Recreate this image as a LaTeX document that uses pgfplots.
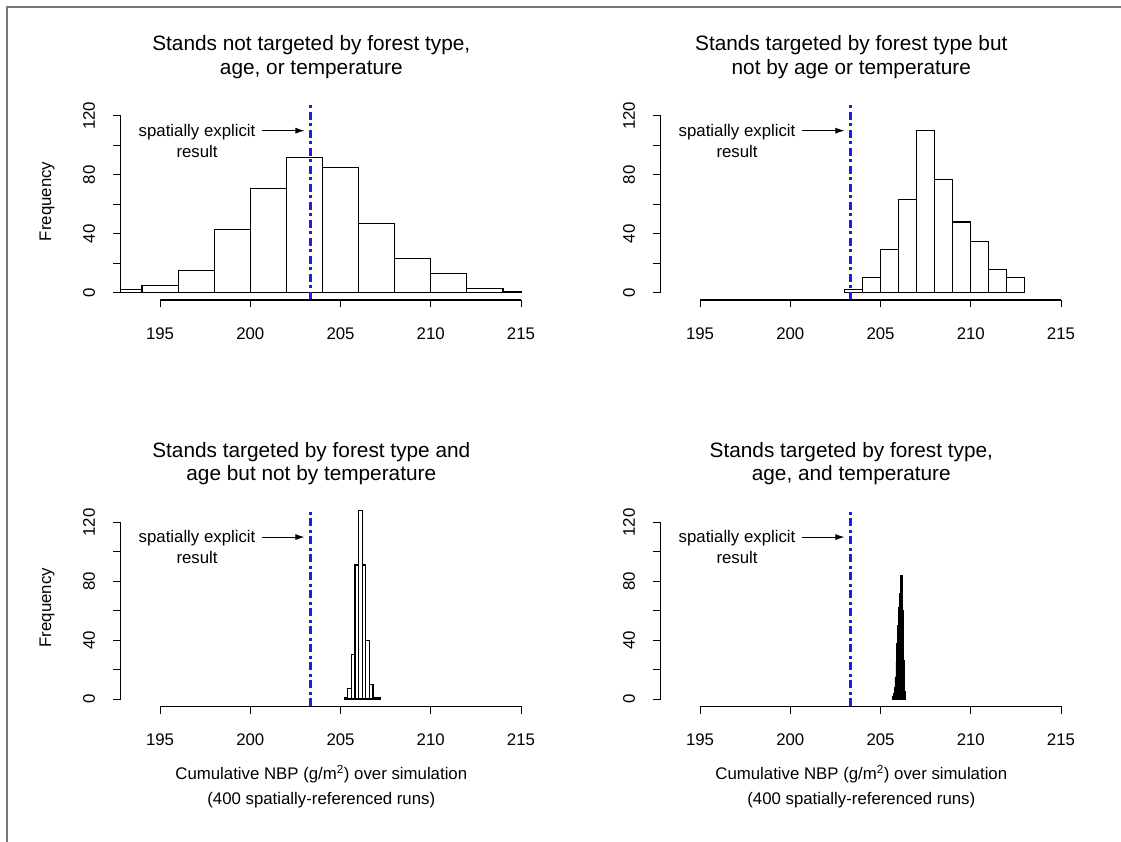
\documentclass[border=0pt]{standalone}
\usepackage{fontspec}
\setmainfont{Liberation Sans}
\usepackage{pgfplots}
\usepackage{pgfplotstable}
\pgfplotsset{compat=1.18}
\usetikzlibrary{arrows.meta}

\definecolor{markblue}{RGB}{28,28,235}
\definecolor{framegray}{RGB}{120,120,120}
\newcommand{\lblfont}{\fontsize{16.8bp}{25bp}\selectfont}
\newcommand{\ttlfont}{\fontsize{20.8bp}{23.5bp}\selectfont}

% Histogram counts: left edge of each bin and its count;
% the final row only closes the last bin.
\pgfplotstableread{
edge count
192 2
194 5
196 15
198 43
200 71
202 92
204 85
206 47
208 23
210 13
212 3
214 1
216 1
}\histNone

\pgfplotstableread{
edge count
203 2
204 10
205 29
206 63
207 110
208 77
209 48
210 35
211 16
212 10
213 10
}\histType

\pgfplotstableread{
edge count
205.2 1
205.4 7
205.6 30
205.8 91
206.0 128
206.2 91
206.4 40
206.6 10
206.8 1
207.0 1
207.2 1
}\histTypeAge

\pgfplotstableread{
edge count
205.65 2
205.70 4
205.75 8
205.80 15
205.85 25
205.90 38
205.95 50
206.00 62
206.05 72
206.10 84
206.15 84
206.20 60
206.25 26
206.30 5
206.35 5
}\histAll

\pgfplotsset{
  nbp panel/.style={
    scale only axis, width=401.2bp, height=197.3bp,
    anchor=south west,
    xmin=192.82, xmax=215.05, ymin=-5, ymax=129,
    axis x line*=bottom, axis y line*=left,
    x axis line style={draw=none}, y axis line style={draw=none},
    xtick={195,200,...,215}, ytick={0,20,...,120},
    yticklabels={0,,40,,80,,120},
    tick align=outside, major tick length=7.5bp,
    tick style={black, line width=1bp},
    tick label style={font=\lblfont},
    /pgf/number format/assume math mode=true,
    xticklabel style={inner sep=0pt, yshift=-20bp},
    yticklabel style={rotate=90, anchor=south, inner sep=0pt, yshift=18bp},
    clip mode=individual,
    title style={font=\ttlfont, align=center, at={(axis description cs:0.5,1)},
      anchor=north, inner sep=0pt, yshift=61bp, xshift=-10bp},
    ylabel style={font=\lblfont, at={(axis description cs:-0.1837,0.5)}, anchor=center},
    xlabel style={font=\lblfont, align=center, at={(axis description cs:0.5,0)},
      anchor=north, inner sep=0pt, yshift=-58.6bp},
  },
  nbp bars/.style={ybar interval, draw=black, line width=1.1bp},
}

% Reference value of the spatially explicit run, its note, and the R-style axis lines
\newcommand{\explicitmark}{%
  \addplot[markblue, line width=2.6bp, dash pattern=on 8bp off 3.5bp on 3bp off 3.5bp]
    coordinates {(203.35,-5) (203.35,129)};
  \node[font=\lblfont] at (axis cs:197.05,109) {spatially explicit};
  \node[font=\lblfont] at (axis cs:197.05,96) {result};
  \draw[-{Latex[length=9bp,width=6bp]}, line width=0.9bp]
    (axis cs:200.67,110) -- (axis cs:203.0,110);
  \draw[line width=1.1bp] (axis cs:195,-5) -- (axis cs:215,-5);
  \draw[line width=1.1bp] (axis cs:192.82,0) -- (axis cs:192.82,120);
}

\begin{document}
\begin{tikzpicture}
\path[use as bounding box] (0,0) rectangle (1121bp,842bp);
\draw[framegray, line width=1.5bp] (7bp,0) -- (7bp,835bp) -- (1121bp,835bp);

\begin{axis}[nbp panel, at={(120.7bp,542bp)},
  title={Stands not targeted by forest type,\\age, or temperature},
  ylabel={Frequency}]
  \addplot[nbp bars, fill=white] table[x=edge, y=count] {\histNone};
  \explicitmark
\end{axis}

\begin{axis}[nbp panel, at={(660.7bp,542bp)},
  title={Stands targeted by forest type but\\not by age or temperature}]
  \addplot[nbp bars, fill=white] table[x=edge, y=count] {\histType};
  \explicitmark
\end{axis}

\begin{axis}[nbp panel, at={(120.7bp,135.6bp)},
  title={Stands targeted by forest type and\\age but not by temperature},
  ylabel={Frequency},
  xlabel={Cumulative NBP (g/m\textsuperscript{2}) over simulation\\(400 spatially-referenced runs)}]
  \addplot[nbp bars, fill=white] table[x=edge, y=count] {\histTypeAge};
  \explicitmark
\end{axis}

\begin{axis}[nbp panel, at={(660.7bp,135.6bp)},
  title={Stands targeted by forest type,\\age, and temperature},
  xlabel={Cumulative NBP (g/m\textsuperscript{2}) over simulation\\(400 spatially-referenced runs)}]
  \addplot[nbp bars, fill=black, line width=0.6bp] table[x=edge, y=count] {\histAll};
  \explicitmark
\end{axis}
\end{tikzpicture}
\end{document}
